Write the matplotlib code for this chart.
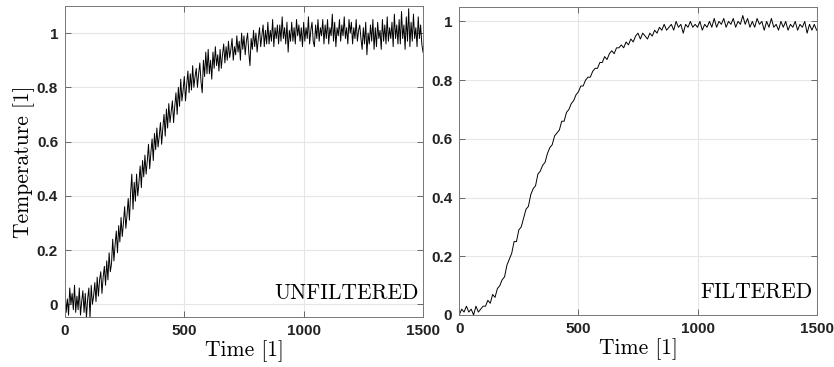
import matplotlib
matplotlib.use("Agg")
import matplotlib.pyplot as plt
import numpy as np

# unfiltered signal, every 5 time units
t_raw = np.arange(0, 1501, 5)
raw = [
    0.05, -0.03, 0.02, -0.04, 0.06, 0.00, 0.04, -0.02, 0.07, -0.03,
    0.03, -0.02, 0.06, -0.04, 0.01, 0.05, -0.03, 0.04, -0.05, 0.02,
    0.06, -0.05, 0.07, 0.00, 0.03, 0.08, 0.01, 0.10, 0.03, 0.09,
    0.12, 0.04, 0.10, 0.14, 0.07, 0.16, 0.09, 0.19, 0.12, 0.15,
    0.24, 0.16, 0.22, 0.27, 0.19, 0.29, 0.23, 0.32, 0.25, 0.30,
    0.36, 0.28, 0.33, 0.39, 0.31, 0.41, 0.48, 0.35, 0.45, 0.38,
    0.48, 0.40, 0.45, 0.51, 0.43, 0.53, 0.47, 0.55, 0.48, 0.53,
    0.59, 0.50, 0.56, 0.61, 0.53, 0.63, 0.57, 0.65, 0.58, 0.62,
    0.67, 0.59, 0.65, 0.70, 0.62, 0.72, 0.65, 0.74, 0.67, 0.71,
    0.75, 0.67, 0.73, 0.78, 0.70, 0.80, 0.73, 0.83, 0.75, 0.79,
    0.84, 0.75, 0.81, 0.86, 0.78, 0.85, 0.79, 0.88, 0.80, 0.84,
    0.87, 0.80, 0.85, 0.89, 0.82, 0.78, 0.90, 0.84, 0.93, 0.85,
    0.94, 0.85, 0.90, 0.83, 0.93, 0.87, 0.95, 0.88, 0.92, 0.86,
    0.94, 0.87, 0.92, 0.96, 0.89, 0.95, 0.90, 0.97, 0.91, 0.94,
    0.98, 0.90, 0.95, 0.92, 0.99, 0.93, 0.97, 0.90, 1.00, 0.94,
    0.99, 0.92, 0.97, 1.00, 0.93, 0.88, 0.98, 0.94, 1.01, 0.95,
    1.00, 0.93, 0.98, 1.02, 0.95, 0.99, 1.03, 0.95, 1.01, 0.96,
    1.04, 0.96, 1.01, 0.97, 1.05, 0.95, 1.02, 0.98, 1.03, 0.96,
    1.03, 0.97, 1.06, 0.98, 1.02, 0.96, 1.04, 0.93, 1.01, 0.97,
    1.04, 0.97, 1.02, 0.96, 1.05, 0.99, 1.03, 0.97, 1.02, 0.95,
    1.04, 0.97, 1.02, 0.98, 1.06, 0.96, 1.01, 1.04, 0.97, 0.95,
    1.03, 0.98, 1.05, 0.97, 1.02, 0.99, 1.05, 0.96, 1.03, 0.98,
    1.05, 0.96, 1.02, 0.99, 1.07, 0.97, 1.04, 0.95, 1.02, 0.99,
    1.05, 0.97, 1.03, 0.99, 1.06, 0.98, 1.02, 0.96, 1.05, 1.00,
    1.04, 0.96, 1.02, 0.98, 1.05, 0.97, 1.01, 1.03, 0.98, 0.94,
    1.02, 0.96, 1.04, 0.92, 1.00, 0.96, 1.03, 0.97, 1.05, 0.94,
    1.02, 0.95, 1.04, 0.98, 1.01, 0.94, 1.05, 0.97, 1.03, 0.96,
    1.06, 0.97, 1.02, 0.98, 1.04, 0.95, 1.07, 0.98, 1.03, 0.96,
    1.05, 0.96, 1.08, 0.98, 1.03, 0.94, 1.06, 0.97, 1.09, 0.95,
    1.04, 0.97, 1.07, 0.98, 1.02, 0.95, 1.06, 0.98, 1.03, 0.96,
    0.93,
]

# filtered signal, every 10 time units
t_filt = np.arange(0, 1501, 10)
filt = [
    0.00, 0.02, 0.01, 0.03, 0.01, 0.02, 0.00, 0.03, 0.01, 0.02,
    0.03, 0.03, 0.05, 0.04, 0.07, 0.06, 0.09, 0.10, 0.12, 0.13,
    0.17, 0.19, 0.21, 0.25, 0.25, 0.29, 0.30, 0.33, 0.36, 0.37,
    0.41, 0.43, 0.44, 0.48, 0.49, 0.51, 0.52, 0.55, 0.57, 0.58,
    0.61, 0.62, 0.63, 0.66, 0.66, 0.69, 0.70, 0.72, 0.73, 0.75,
    0.76, 0.78, 0.78, 0.80, 0.81, 0.81, 0.83, 0.84, 0.84, 0.86,
    0.86, 0.88, 0.87, 0.89, 0.90, 0.89, 0.91, 0.91, 0.92, 0.91,
    0.93, 0.92, 0.94, 0.93, 0.95, 0.96, 0.94, 0.96, 0.95, 0.94,
    0.96, 0.95, 0.97, 0.96, 0.98, 0.97, 0.99, 0.97, 0.98, 0.99,
    0.97, 1.00, 0.98, 0.99, 0.96, 0.99, 0.98, 1.00, 0.98, 0.99,
    0.98, 1.00, 0.97, 0.99, 0.98, 1.00, 0.98, 1.01, 0.98, 1.00,
    0.99, 1.01, 0.98, 1.00, 0.99, 1.01, 0.98, 1.00, 0.99, 1.02,
    0.99, 1.01, 0.98, 1.00, 0.98, 1.01, 0.99, 1.00, 0.97, 1.00,
    0.98, 1.01, 0.98, 0.99, 0.97, 1.00, 0.98, 1.00, 0.97, 0.99,
    0.98, 1.00, 0.97, 0.99, 0.98, 1.00, 0.96, 0.99, 0.97, 0.99,
    0.97,
]

xticks = [0, 500, 1000, 1500]
yticks = [0, 0.2, 0.4, 0.6, 0.8, 1]
ytick_labels = ["0", "0.2", "0.4", "0.6", "0.8", "1"]

fig = plt.figure(figsize=(8.34, 3.67), dpi=100)
ax1 = fig.add_axes([0.0779, 0.1362, 0.4293, 0.8475])
ax2 = fig.add_axes([0.5507, 0.1417, 0.4285, 0.8400])

serif = "cmr10"

def style(ax, ylim):
    ax.set_xlim(0, 1500)
    ax.set_ylim(*ylim)
    ax.set_xticks(xticks)
    ax.set_xticklabels([str(v) for v in xticks])
    ax.set_yticks(yticks)
    ax.set_yticklabels(ytick_labels)
    ax.grid(True, color="#e6e6e6", linewidth=0.8)
    ax.set_axisbelow(True)
    ax.tick_params(direction="in", length=4, width=0.6, color="#555555",
                   top=True, right=True, labelsize=11, pad=5)
    for lab in ax.get_xticklabels() + ax.get_yticklabels():
        lab.set_fontweight("bold")
        lab.set_family("Liberation Sans")
        lab.set_color("#222222")
    for s in ax.spines.values():
        s.set_color("#777777")
        s.set_linewidth(0.7)
    ax.set_xlabel("Time [1]", family=serif, fontsize=15.5, labelpad=2)

ax1.plot(t_raw, raw, color="black", linewidth=0.7)
style(ax1, (-0.047, 1.10))
ax1.set_ylabel("Temperature [1]", family=serif, fontsize=15.5, labelpad=1)
ax1.text(0.987, 0.075, "UNFILTERED", transform=ax1.transAxes, ha="right",
         va="center", family=serif, fontsize=15.5)

ax2.plot(t_filt, filt, color="black", linewidth=0.7)
style(ax2, (0, 1.05))
ax2.text(0.99, 0.075, "FILTERED", transform=ax2.transAxes, ha="right",
         va="center", family=serif, fontsize=15.5)

fig.savefig("out.png", dpi=100)
